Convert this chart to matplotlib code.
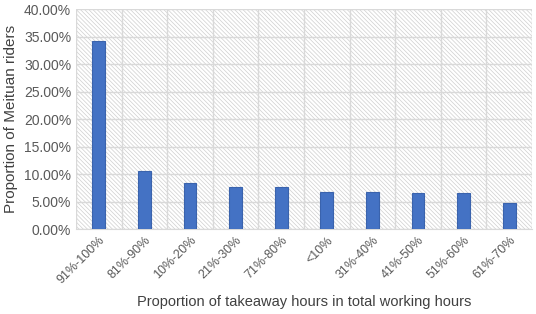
import matplotlib
matplotlib.use('Agg')
from matplotlib import pyplot as plt
from matplotlib.patches import Rectangle
from matplotlib.ticker import FuncFormatter, MultipleLocator
import numpy as np

categories = ['91%-100%', '81%-90%', '10%-20%', '21%-30%', '71%-80%',
              '<10%', '31%-40%', '41%-50%', '51%-60%', '61%-70%']
proportions = [34.2, 10.6, 8.4, 7.7, 7.6, 6.8, 6.7, 6.5, 6.5, 4.8]

plt.rcParams['font.family'] = ['Liberation Sans', 'DejaVu Sans']
plt.rcParams['hatch.linewidth'] = 0.5
plt.rcParams['hatch.color'] = '#cfcfcf'

fig = plt.figure(figsize=(5.36, 3.14), dpi=100)
ax = fig.add_axes([0.1418, 0.2707, 0.8507, 0.7006])

x = np.arange(len(categories))
ax.set_xlim(-0.5, len(categories) - 0.5)
ax.set_ylim(0, 40)

# hatched background
ax.add_patch(Rectangle((0, 0), 1, 1, transform=ax.transAxes, facecolor='white',
                       edgecolor='#cfcfcf', hatch='\\' * 8, linewidth=0, zorder=0))

ax.bar(x, proportions, width=0.28, color='#4472C4', edgecolor='#3a63ad',
       linewidth=0.8, zorder=3)

ax.yaxis.set_major_locator(MultipleLocator(5))
ax.yaxis.set_major_formatter(FuncFormatter(lambda v, p: f'{v:.2f}%'))
ax.set_xticks(x)
ax.set_xticklabels(categories, rotation=45, ha='right', rotation_mode='anchor')
ax.set_xticks(np.arange(-0.5, len(categories)), minor=True)

ax.grid(True, axis='y', which='major', color='#d9d9d9', linewidth=1, zorder=1)
ax.grid(True, axis='x', which='minor', color='#d9d9d9', linewidth=1, zorder=1)
ax.set_axisbelow(True)

for s in ['top', 'right', 'left']:
    ax.spines[s].set_visible(False)
ax.spines['bottom'].set_color('#d9d9d9')

ax.tick_params(axis='both', which='both', length=0, colors='#595959')
ax.tick_params(axis='y', labelsize=10)
ax.tick_params(axis='x', labelsize=9, pad=4)

ax.set_xlabel('Proportion of takeaway hours in total working hours', fontsize=10.5,
              color='#404040', labelpad=6)
ax.set_ylabel('Proportion of Meituan riders', fontsize=11, color='#404040', labelpad=4)

fig.savefig('out.png', dpi=100)
